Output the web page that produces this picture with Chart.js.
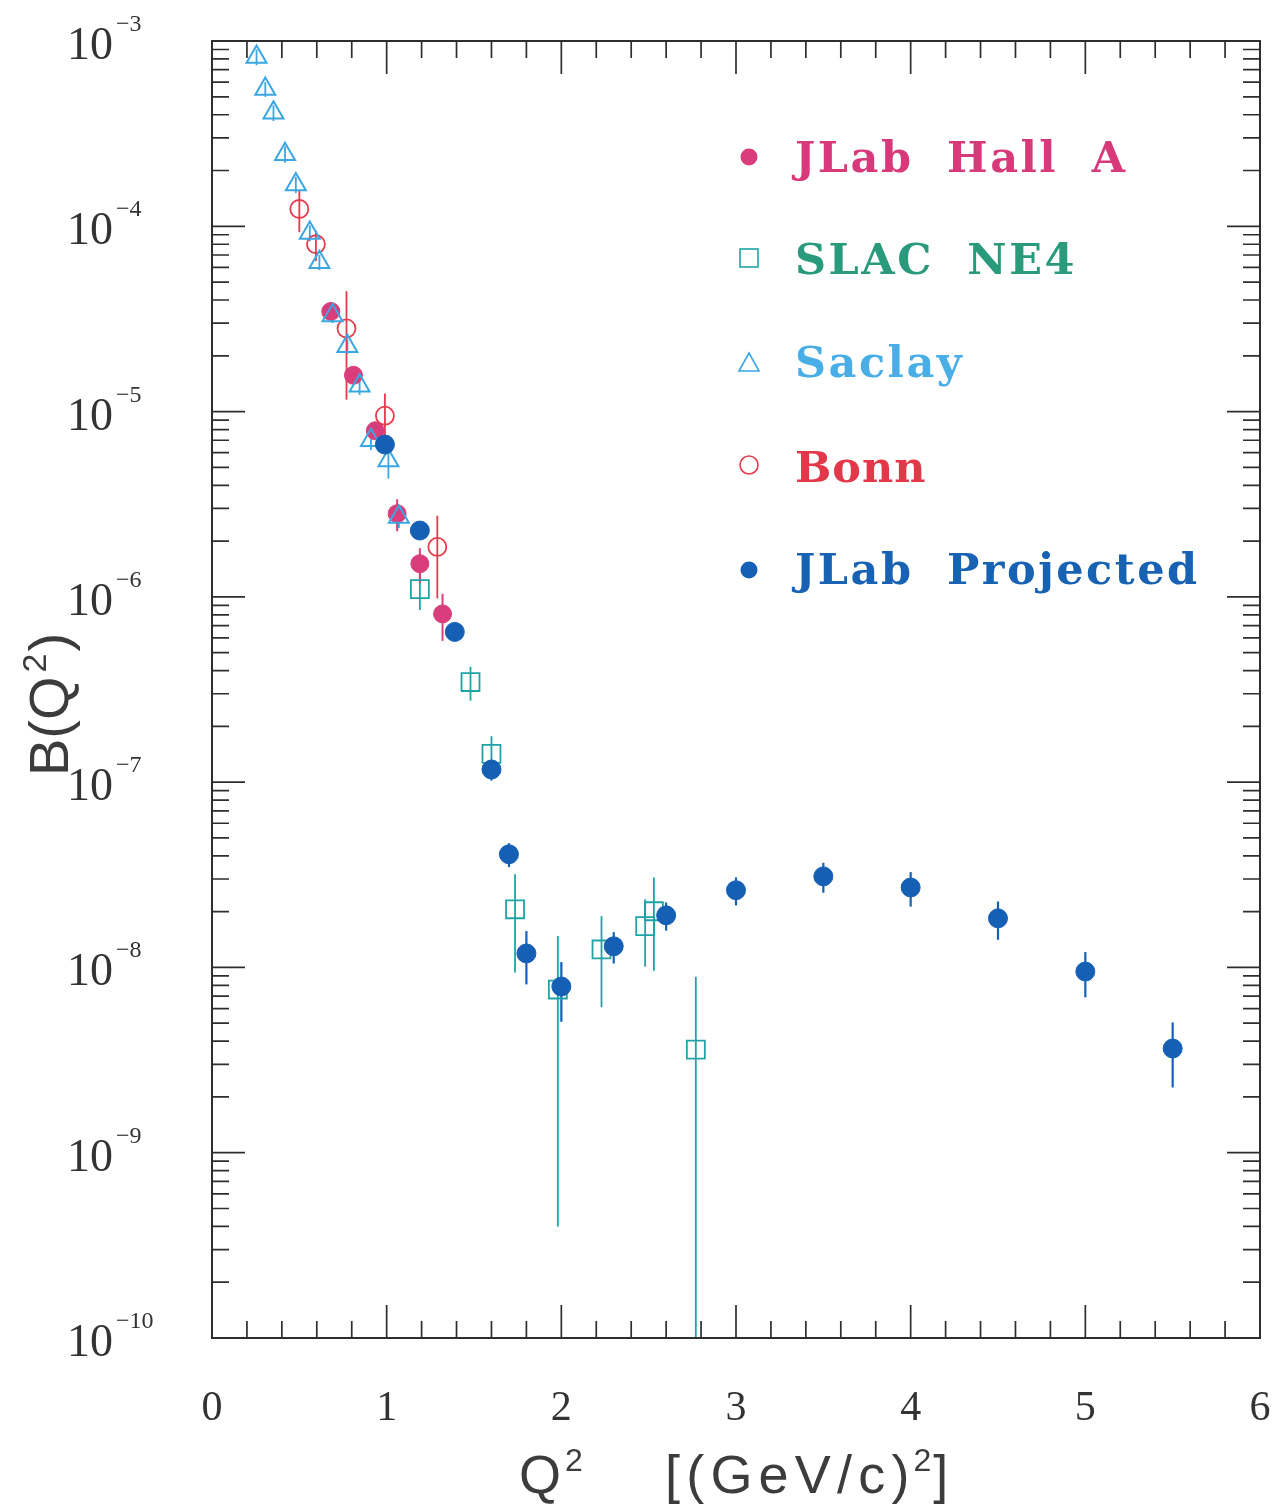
<!DOCTYPE html>
<html><head><meta charset="utf-8">
<script src="https://cdn.jsdelivr.net/npm/chart.js@4.4.1/dist/chart.umd.min.js"></script>
<style>html,body{margin:0;padding:0;background:#fff;} canvas{display:block;}</style>
</head><body>
<canvas id="c" width="1275" height="1506" style="width:1275px;height:1506px"></canvas>
<script>
// ---------------- data ----------------
const seriesNames = ['JLab Hall A', 'SLAC NE4', 'Saclay', 'Bonn', 'JLab Projected'];

const hallAQ2  = [0.68, 0.81, 0.935, 1.06, 1.19, 1.32];
const hallAB   = [3.47e-5, 1.57e-5, 7.88e-6, 2.81e-6, 1.51e-6, 8.09e-7];
const hallAErr = [0.3e-5, 0.15e-5, 0.6e-6, 0.55e-6, 0.32e-6, 0.23e-6];

const slacQ2  = [1.19, 1.48, 1.60, 1.735, 1.98, 2.23, 2.48, 2.53, 2.77];
const slacB   = [1.10e-6, 3.47e-7, 1.42e-7, 2.06e-8, 7.6e-9, 1.25e-8, 1.67e-8, 2.01e-8, 3.6e-9];
const slacErr = [0.25e-6, 0.72e-7, 0.35e-7, 1.12e-8, 7.2e-9, 0.64e-8, 0.66e-8, 1.05e-8, 5.3e-9];

const saclayQ2  = [0.255, 0.305, 0.352, 0.418, 0.48, 0.56, 0.615, 0.69, 0.775, 0.845, 0.91, 1.01, 1.07];
const saclayB   = [8.2e-4, 5.5e-4, 4.1e-4, 2.45e-4, 1.68e-4, 9.2e-5, 6.4e-5, 3.3e-5, 2.25e-5, 1.38e-5, 7.0e-6, 5.45e-6, 2.7e-6];
const saclayErr = [0.8e-4, 0.5e-4, 0.4e-4, 0.25e-4, 0.17e-4, 0.9e-5, 0.6e-5, 0.3e-5, 0.2e-5, 0.15e-5, 0.8e-6, 1.1e-6, 0.35e-6];

const bonnQ2  = [0.50, 0.595, 0.77, 0.99, 1.29];
const bonnB   = [1.24e-4, 8.0e-5, 2.81e-5, 9.5e-6, 1.86e-6];
const bonnErr = [0.31e-4, 1.5e-5, 1.65e-5, 0.3e-5, 0.88e-6];

const projQ2  = [0.99, 1.19, 1.39, 1.60, 1.70, 1.80, 2.0, 2.3, 2.6, 3.0, 3.5, 4.0, 4.5, 5.0, 5.5];
const projB   = [6.64e-6, 2.28e-6, 6.47e-7, 1.17e-7, 4.08e-8, 1.19e-8, 7.89e-9, 1.30e-8, 1.91e-8, 2.61e-8, 3.10e-8, 2.70e-8, 1.84e-8, 9.5e-9, 3.65e-9];
const projErr = [0.3e-6, 0.1e-6, 0.3e-7, 0.15e-7, 0.6e-8, 0.38e-8, 0.28e-8, 0.25e-8, 0.33e-8, 0.45e-8, 0.57e-8, 0.57e-8, 0.43e-8, 2.6e-9, 1.4e-9];

const xTickLabels = ['0', '1', '2', '3', '4', '5', '6'];
const yTickExponents = [-3, -4, -5, -6, -7, -8, -9, -10];
const xTitleParts = ['Q', '2', '[(GeV/c)', '2', ']'];
const yTitleParts = ['B(Q', '2', ')'];

// ---------------- styles ----------------
const COL = {
  hallA: '#d93d7b', slac: '#1fa3a6', saclay: '#3aa7e2', bonn: '#e63b4c', proj: '#1560b5'
};
const TEXTCOL = ['#d8397a', '#2a9a7c', '#4aaee6', '#e2384a', '#1862b3'];

function pts(xs, ys, es) { return xs.map((v, i) => ({x: v, y: ys[i], e: es[i]})); }

const datasets = [
  {label: seriesNames[4], data: pts(projQ2, projB, projErr), order: 0,
   pointStyle: 'circle', radius: 9.5, backgroundColor: COL.proj, borderColor: COL.proj, borderWidth: 1,
   errColor: COL.proj, errWidth: 2.2},
  {label: seriesNames[2], data: pts(saclayQ2, saclayB, saclayErr), order: 1,
   pointStyle: 'triangle', radius: 11.5, backgroundColor: 'rgba(0,0,0,0)', borderColor: COL.saclay, borderWidth: 2,
   errColor: COL.saclay, errWidth: 1.8},
  {label: seriesNames[3], data: pts(bonnQ2, bonnB, bonnErr), order: 2,
   pointStyle: 'circle', radius: 9, backgroundColor: 'rgba(0,0,0,0)', borderColor: COL.bonn, borderWidth: 1.8,
   errColor: COL.bonn, errWidth: 1.8},
  {label: seriesNames[1], data: pts(slacQ2, slacB, slacErr), order: 3,
   pointStyle: 'rect', radius: 12.7, backgroundColor: 'rgba(0,0,0,0)', borderColor: COL.slac, borderWidth: 1.8,
   errColor: COL.slac, errWidth: 1.8},
  {label: seriesNames[0], data: pts(hallAQ2, hallAB, hallAErr), order: 4,
   pointStyle: 'circle', radius: 9, backgroundColor: COL.hallA, borderColor: COL.hallA, borderWidth: 1,
   errColor: COL.hallA, errWidth: 2}
];

// ---------------- plugins ----------------
const errorBars = {
  id: 'errorBars',
  beforeDatasetsDraw(chart) {
    const {ctx, chartArea: a, scales: {x, y}} = chart;
    ctx.save();
    ctx.beginPath(); ctx.rect(a.left, a.top, a.right - a.left, a.bottom - a.top); ctx.clip();
    chart.data.datasets.forEach(ds => {
      ctx.strokeStyle = ds.errColor; ctx.lineWidth = ds.errWidth;
      ds.data.forEach(p => {
        const px = x.getPixelForValue(p.x);
        const hi = y.getPixelForValue(p.y + p.e);
        const lo = (p.y - p.e) > 0 ? Math.min(y.getPixelForValue(p.y - p.e), a.bottom) : a.bottom;
        ctx.beginPath(); ctx.moveTo(px, hi); ctx.lineTo(px, lo); ctx.stroke();
      });
    });
    ctx.restore();
  }
};

function drawSpaced(ctx, text, x, y, sp) {
  for (const ch of text) {
    ctx.fillText(ch, x, y);
    x += ctx.measureText(ch).width + sp;
  }
  return x - sp;
}

const frameAndText = {
  id: 'frameAndText',
  afterDraw(chart) {
    const {ctx, chartArea: a, scales: {x, y}} = chart;
    ctx.save();
    // frame
    ctx.strokeStyle = '#2e2e2e'; ctx.lineWidth = 2;
    ctx.strokeRect(a.left, a.top, a.right - a.left, a.bottom - a.top);
    // x ticks (bottom and top)
    ctx.lineWidth = 1.7;
    const xmin = x.min, xmax = x.max;
    for (let i = 0; i <= Math.round((xmax - xmin) / 0.2); i++) {
      const v = xmin + i * 0.2;
      const major = i % 5 === 0;
      const len = major ? 33 : 17;
      const px = x.getPixelForValue(v);
      if (i === 0 || v >= xmax - 1e-9) continue;
      ctx.beginPath();
      ctx.moveTo(px, a.bottom); ctx.lineTo(px, a.bottom - len);
      ctx.moveTo(px, a.top); ctx.lineTo(px, a.top + len);
      ctx.stroke();
    }
    // y ticks (left and right)
    const lo = Math.min(...yTickExponents), hi = Math.max(...yTickExponents);
    for (let d = lo; d <= hi; d++) {
      for (let m = 1; m <= 9; m++) {
        if (d === hi && m > 1) break;
        const v = m * Math.pow(10, d);
        const py = y.getPixelForValue(v);
        const len = m === 1 ? 33 : 17;
        if (d === lo && m === 1) continue;
        if (d === hi && m === 1) continue;
        ctx.beginPath();
        ctx.moveTo(a.left, py); ctx.lineTo(a.left + len, py);
        ctx.moveTo(a.right, py); ctx.lineTo(a.right - len, py);
        ctx.stroke();
      }
    }
    // x tick labels
    ctx.fillStyle = '#333';
    ctx.font = '42px "Liberation Serif", serif';
    ctx.textAlign = 'center'; ctx.textBaseline = 'alphabetic';
    xTickLabels.forEach((t, i) => {
      ctx.fillText(t, x.getPixelForValue(i), a.bottom + 82);
    });
    // y tick labels 10^e
    yTickExponents.forEach(e => {
      const py = y.getPixelForValue(Math.pow(10, e));
      ctx.font = '46px "Liberation Serif", serif';
      ctx.textAlign = 'right';
      ctx.fillText('10', a.left - 99, py + 18);
      ctx.font = '24px "Liberation Serif", serif';
      ctx.textAlign = 'left';
      ctx.fillText('\u2212' + String(-e), a.left - 96, py - 10);
    });
    // x title
    ctx.fillStyle = '#3c3c3c';
    ctx.textAlign = 'left';
    ctx.font = '54px "Liberation Sans", Arial, sans-serif';
    let tx = 519, base = a.bottom + 155;
    ctx.fillText(xTitleParts[0], tx, base);
    tx += ctx.measureText(xTitleParts[0]).width + 4;
    ctx.font = '32px "Liberation Sans", Arial, sans-serif';
    ctx.fillText(xTitleParts[1], tx, base - 22);
    tx = 665;
    ctx.font = '54px "Liberation Sans", Arial, sans-serif';
    tx = drawSpaced(ctx, xTitleParts[2], tx, base, 6.2) + 4;
    ctx.font = '32px "Liberation Sans", Arial, sans-serif';
    ctx.fillText(xTitleParts[3], tx, base - 22);
    tx += ctx.measureText(xTitleParts[3]).width + 2;
    ctx.font = '54px "Liberation Sans", Arial, sans-serif';
    ctx.fillText(xTitleParts[4], tx, base);
    // y title (rotated)
    ctx.save();
    ctx.translate(68, 776);
    ctx.rotate(-Math.PI / 2);
    ctx.font = '56px "Liberation Sans", Arial, sans-serif';
    let ty = 0;
    ctx.fillText(yTitleParts[0], ty, 0);
    ty += ctx.measureText(yTitleParts[0]).width + 4;
    ctx.font = '34px "Liberation Sans", Arial, sans-serif';
    ctx.fillText(yTitleParts[1], ty, -22);
    ty += ctx.measureText(yTitleParts[1]).width + 2;
    ctx.font = '56px "Liberation Sans", Arial, sans-serif';
    ctx.fillText(yTitleParts[2], ty, 0);
    ctx.restore();
    // legend
    const legendOrder = [0, 1, 2, 3, 4];
    const markerY = [157, 258, 363, 465, 570];
    const textBase = [172, 274, 377, 482, 584];
    const mx = 749, tx0 = 795;
    legendOrder.forEach((k, i) => {
      const my = markerY[i];
      ctx.lineWidth = 1.6;
      if (k === 0 || k === 4) {
        ctx.fillStyle = k === 0 ? COL.hallA : COL.proj;
        ctx.beginPath(); ctx.arc(mx, my, 8.5, 0, Math.PI * 2); ctx.fill();
      } else if (k === 1) {
        ctx.strokeStyle = COL.slac; ctx.strokeRect(mx - 9, my - 9, 18, 18);
      } else if (k === 2) {
        ctx.strokeStyle = COL.saclay;
        ctx.beginPath(); ctx.moveTo(mx, my - 10); ctx.lineTo(mx + 10, my + 8); ctx.lineTo(mx - 10, my + 8); ctx.closePath(); ctx.stroke();
      } else {
        ctx.strokeStyle = COL.bonn;
        ctx.beginPath(); ctx.arc(mx, my, 9, 0, Math.PI * 2); ctx.stroke();
      }
      ctx.fillStyle = TEXTCOL[k];
      ctx.font = 'bold 43px "DejaVu Serif", serif';
      const words = seriesNames[k].split(' ');
      let wx = tx0;
      words.forEach(w => {
        wx = drawSpaced(ctx, w, wx, textBase[i], k === 3 ? 1 : 2.5);
        wx += 36;
      });
    });
    ctx.restore();
  }
};

new Chart(document.getElementById('c'), {
  type: 'scatter',
  data: {datasets},
  options: {
    responsive: false, animation: false, devicePixelRatio: 1,
    layout: {padding: {left: 212, right: 15, top: 41, bottom: 168}},
    scales: {
      x: {type: 'linear', min: 0, max: 6, display: false},
      y: {type: 'logarithmic', min: 1e-10, max: 1e-3, display: false}
    },
    plugins: {legend: {display: false}, tooltip: {enabled: false}},
    clip: false
  },
  plugins: [errorBars, frameAndText]
});
</script>
</body></html>
